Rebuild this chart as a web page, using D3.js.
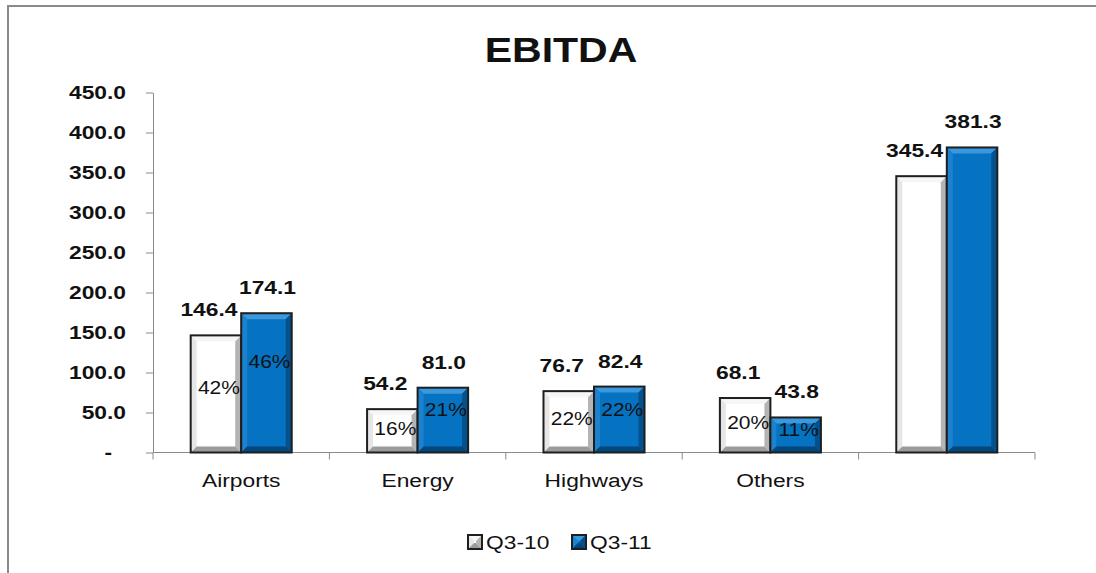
<!DOCTYPE html>
<html>
<head>
<meta charset="utf-8">
<script src="https://cdn.jsdelivr.net/npm/d3@7"></script>
<style>
    body { margin: 0; background: #fff; }
    svg { display: block; font-family: Arial, "Liberation Sans", sans-serif; }
</style>
</head>
<body>
<div id="chart"></div>
<script>
// chart data
var categories = ["Airports", "Energy", "Highways", "Others", ""];
var seriesNames = ["Q3-10", "Q3-11"];
var q310 = [146.4, 54.2, 76.7, 68.1, 345.4];
var q311 = [174.1, 81.0, 82.4, 43.8, 381.3];
var pct310 = ["42%", "16%", "22%", "20%", ""];
var pct311 = ["46%", "21%", "22%", "11%", ""];
var yTicks = [0, 50, 100, 150, 200, 250, 300, 350, 400, 450];

var W = 1096, H = 573;
var stretch = 1.2;   // text in the original is a bit wide

var svg = d3.select('#chart').append('svg')
        .attr('width', W)
        .attr('height', H);

// frame of the slide chart box
svg.append('rect')
        .attr('x', 8).attr('y', 6)
        .attr('width', W + 20).attr('height', H + 20)
        .attr('fill', '#fff')
        .attr('stroke', '#8a8a8a')
        .attr('stroke-width', 2);

var x = d3.scaleBand().domain(d3.range(categories.length)).range([153, 1035]).padding(0);
var xs = d3.scaleBand().domain(d3.range(seriesNames.length)).range([0, x.bandwidth()])
        .paddingInner(0).paddingOuter(0.746);
var y = d3.scaleLinear().domain([0, 450]).range([452.5, 92.5]);

var styles = [
    {face: '#ffffff', top: '#f6f6f6', left: '#e6e6e6', right: '#b4b4b4', bottom: '#9c9c9c'},
    {face: '#0672c2', top: '#3b98dc', left: '#1c82ce', right: '#03518d', bottom: '#02477c'}
];

function stext(g, tx, ty, str, size, weight, anchor, k) {
    return g.append('text')
            .attr('transform', 'translate(' + tx + ',' + ty + ') scale(' + (k || stretch) + ',1)')
            .attr('text-anchor', anchor || 'middle')
            .attr('font-size', size)
            .attr('font-weight', weight || 'normal')
            .attr('fill', '#111')
            .text(str);
}

function bevelBar(g, bx, by, bw, bh, st) {
    var b = Math.min(6, bh / 2);
    g.append('rect').attr('x', bx).attr('y', by).attr('width', bw).attr('height', bh).attr('fill', st.face);
    var polys = [
        [[bx, by], [bx + bw, by], [bx + bw - b, by + b], [bx + b, by + b], st.top],
        [[bx, by], [bx + b, by + b], [bx + b, by + bh - b], [bx, by + bh], st.left],
        [[bx + bw, by], [bx + bw, by + bh], [bx + bw - b, by + bh - b], [bx + bw - b, by + b], st.right],
        [[bx, by + bh], [bx + b, by + bh - b], [bx + bw - b, by + bh - b], [bx + bw, by + bh], st.bottom]
    ];
    polys.forEach(function (p) {
        g.append('polygon')
                .attr('points', p.slice(0, 4).map(function (q) { return q.join(','); }).join(' '))
                .attr('fill', p[4]);
    });
    g.append('rect').attr('x', bx).attr('y', by).attr('width', bw).attr('height', bh)
            .attr('fill', 'none').attr('stroke', '#1e1e1e').attr('stroke-width', 2);
}

// title
stext(svg, 561, 62, 'EBITDA', 36, 'bold', 'middle', 1.14);

// y axis
var yAxis = svg.append('g')
        .attr('transform', 'translate(153,0)')
        .call(d3.axisLeft(y).tickValues(yTicks).tickSize(7).tickSizeOuter(0).tickPadding(15.5)
                      .tickFormat(function (d) { return d === 0 ? '-' : d3.format('.1f')(d); }));
yAxis.select('.domain').attr('stroke', '#8a8a8a');
yAxis.selectAll('.tick line').attr('stroke', '#8a8a8a');
yAxis.selectAll('.tick text')
        .attr('font-size', 19)
        .attr('font-weight', 'bold')
        .attr('font-family', 'Arial, "Liberation Sans", sans-serif')
        .attr('fill', '#111')
        .attr('transform', 'scale(' + stretch + ',1)')
        .filter(function (d) { return d === 0; })
        .attr('x', -34);

// x axis line with ticks at category boundaries
var bounds = x.domain().map(function (d) { return x(d); }).concat([x.range()[1]]);
svg.append('line')
        .attr('x1', x.range()[0]).attr('x2', x.range()[1])
        .attr('y1', y(0)).attr('y2', y(0))
        .attr('stroke', '#8a8a8a');
svg.selectAll('.xtick').data(bounds).enter().append('line')
        .attr('x1', function (d) { return d; }).attr('x2', function (d) { return d; })
        .attr('y1', y(0)).attr('y2', y(0) + 7)
        .attr('stroke', '#8a8a8a');

// bars
var series = [q310, q311];
var pcts = [pct310, pct311];
var pctPos = [0.45, 0.35];
var labelShift = [-7, 1];
var bars = svg.append('g');
var labels = svg.append('g');
categories.forEach(function (c, i) {
    series.forEach(function (vals, s) {
        var bx = x(i) + xs(s), bw = xs.bandwidth();
        var by = y(vals[i]), bh = y(0) - y(vals[i]);
        bevelBar(bars, bx, by, bw, bh, styles[s]);
        stext(labels, bx + bw / 2 + labelShift[s], by - 19, d3.format('.1f')(vals[i]), 19, 'bold');
        if (pcts[s][i]) {
            stext(labels, bx + bw / 2 + 3, by + bh * pctPos[s] + 6, pcts[s][i], 17.5, 'normal');
        }
    });
    if (c) stext(svg, x(i) + x.bandwidth() / 2, 487, c, 19, 'normal');
});

// legend
var legend = svg.append('g');
var legendX = [468, 572];
seriesNames.forEach(function (name, s) {
    bevelBar(legend, legendX[s], 535, 14, 14, styles[s]);
    stext(legend, legendX[s] + 18, 548.5, name, 19, 'normal', 'start');
});
</script>
</body>
</html>
